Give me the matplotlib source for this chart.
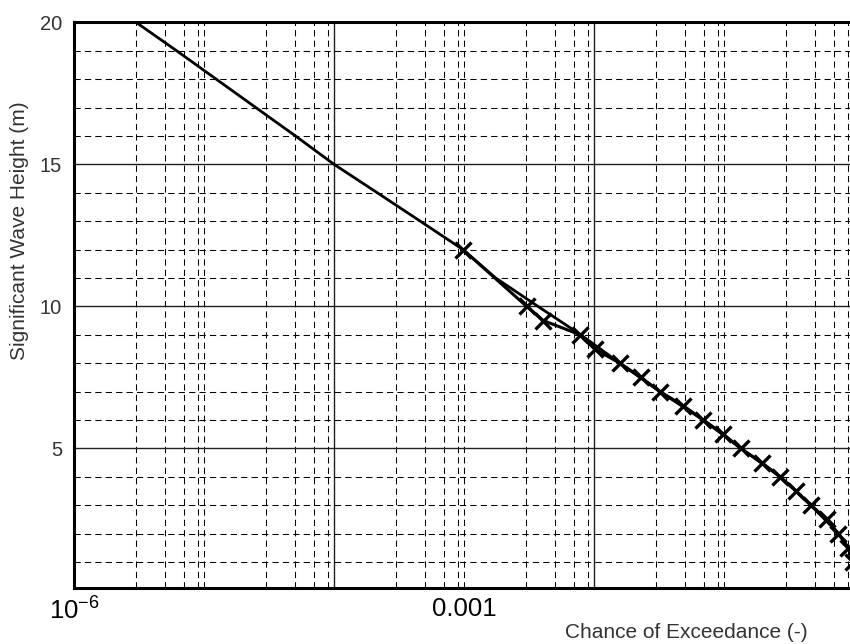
import matplotlib
matplotlib.use("Agg")
import matplotlib.pyplot as plt

plt.rcParams['font.family'] = ['Liberation Sans', 'DejaVu Sans']
plt.rcParams['mathtext.fontset'] = 'custom'
plt.rcParams['mathtext.rm'] = 'Liberation Sans'
plt.rcParams['mathtext.it'] = 'Liberation Sans:italic'
plt.rcParams['mathtext.bf'] = 'Liberation Sans:bold'

# Fitted exceedance curve: significant wave height (m) vs chance of exceedance
fit_height = [20, 19, 18, 17, 16, 15, 14, 13, 12, 11, 10, 9, 8, 7, 6, 5, 4, 3, 2, 1.5, 1]
fit_prob = [3.0e-6, 6.15e-6, 1.24e-5, 2.5e-5, 5.05e-5, 1.0e-4, 2.15e-4, 4.6e-4, 9.8e-4,
            1.75e-3, 3.7e-3, 7.9e-3, 1.58e-2, 3.2e-2, 6.9e-2, 0.135, 0.27, 0.465,
            0.76, 0.905, 1.0]

# Observed exceedance points
obs_height = [12, 10, 9.5, 9, 8.5, 8, 7.5, 7, 6.5, 6, 5.5, 5, 4.5, 4, 3.5, 3, 2.5, 2, 1.5, 1.0]
obs_prob = [9.8e-4, 3.03e-3, 4.07e-3, 7.8e-3, 1.01e-2, 1.58e-2, 2.29e-2, 3.22e-2,
            4.86e-2, 6.93e-2, 9.88e-2, 0.134, 0.195, 0.270, 0.358, 0.465, 0.617,
            0.757, 0.904, 0.98]

x_tick_values = [1e-6, 1e-3]
x_tick_labels = [r'$10^{-6}$', '0.001']
y_tick_values = [5, 10, 15, 20]
y_tick_labels = ['5', '10', '15', '20']

W, H = 850, 644
fig = plt.figure(figsize=(W / 100, H / 100), dpi=100)
left_px, right_px, top_px, bottom_px = 74, 854, 22.3, 587.5
ax = fig.add_axes([left_px / W, (H - bottom_px) / H,
                   (right_px - left_px) / W, (bottom_px - top_px) / H])

ax.set_xscale('log')
ax.set_xlim(1e-6, 1)
ax.set_ylim(0.1, 20)

# Grid: dashed at 3,5,7,9 x 10^k and odd decades, solid at 1e-4 and 1e-2
dash = (0, (6, 4))
grid_lw = 0.75
for k in range(-6, 0):
    for m in (3, 5, 7, 9):
        ax.axvline(m * 10.0 ** k, color='black', lw=grid_lw, ls=dash, zorder=1)
for k in (-5, -3, -1):
    ax.axvline(10.0 ** k, color='black', lw=grid_lw, ls=dash, zorder=1)
for k in (-4, -2):
    ax.axvline(10.0 ** k, color='#202020', lw=1.0, ls='-', zorder=1)
for h in range(1, 20):
    if h % 5 == 0:
        ax.axhline(h, color='#202020', lw=1.0, ls='-', zorder=1)
    else:
        ax.axhline(h, color='black', lw=grid_lw, ls=dash, zorder=1)

# Fitted curve and observations
ax.plot(fit_prob, fit_height, color='black', lw=2.0, zorder=3,
        solid_capstyle='butt')
ax.plot(obs_prob, obs_height, color='black', lw=2.2, marker='x',
        markersize=11, markeredgewidth=2.4, zorder=4)

ax.xaxis.set_major_locator(matplotlib.ticker.FixedLocator(x_tick_values))
ax.xaxis.set_major_formatter(matplotlib.ticker.FixedFormatter(x_tick_labels))
ax.xaxis.set_minor_locator(matplotlib.ticker.NullLocator())
ax.set_yticks(y_tick_values)
ax.set_yticklabels(y_tick_labels)
ax.tick_params(axis='x', length=0, pad=7, labelsize=18.5, labelcolor='black')
ax.tick_params(axis='y', length=0, pad=8.5, labelsize=14.5, labelcolor='#333333')

for side in ('left', 'bottom', 'top'):
    ax.spines[side].set_linewidth(2.2)
    ax.spines[side].set_color('black')
ax.spines['right'].set_visible(False)

fig.text(20 / W, 1 - 231 / H, 'Significant Wave Height (m)', rotation=90,
         ha='center', va='center', fontsize=15, color='#333333')
fig.text(686 / W, 1 - 633 / H, 'Chance of Exceedance (-)',
         ha='center', va='center', fontsize=15, color='#333333')

fig.savefig('out.png', dpi=100)
